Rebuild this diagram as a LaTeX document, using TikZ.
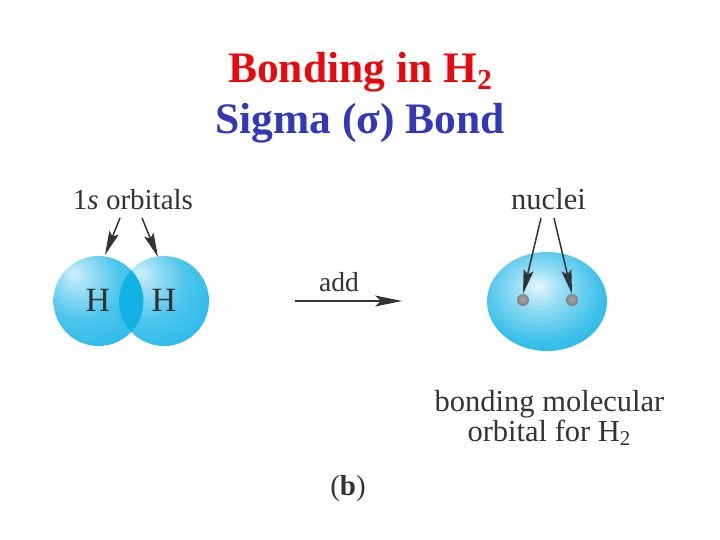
\documentclass[tikz,border=0pt]{standalone}
\usepackage{fontspec}
\setmainfont{Liberation Serif}
\usetikzlibrary{arrows.meta,shapes.geometric}
\definecolor{titlered}{HTML}{E8090F}
\definecolor{titleblue}{HTML}{3338B8}
\definecolor{inkgrey}{HTML}{2F3438}
\definecolor{lensblue}{HTML}{12B2E4}
\definecolor{ballblue}{HTML}{24B8E8}
\pgfdeclareradialshading{ballshade}{\pgfpoint{-14bp}{16bp}}{%
  color(0bp)=(white!78!ballblue);
  color(8bp)=(white!55!ballblue);
  color(22bp)=(white!18!ballblue);
  color(40bp)=(ballblue);
  color(58bp)=(lensblue);
  color(70bp)=(white!18!lensblue)}
\pgfdeclareradialshading{molshade}{\pgfpoint{-4bp}{8bp}}{%
  color(0bp)=(white!88!ballblue);
  color(10bp)=(white!52!ballblue);
  color(26bp)=(white!10!ballblue);
  color(44bp)=(lensblue);
  color(70bp)=(lensblue)}
\pgfdeclareradialshading{nucshade}{\pgfpoint{-1bp}{6bp}}{%
  color(0bp)=(black!35);
  color(25bp)=(black!50);
  color(50bp)=(black!68)}
\tikzset{
  x=1pt,y=-1pt,
  titletext/.style={font=\fontsize{43.5}{44}\selectfont\bfseries,inner sep=0pt,anchor=base},
  labeltext/.style={font=\fontsize{30.5}{32}\selectfont,text=inkgrey,inner sep=0pt,anchor=base},
  atomball/.style={circle,minimum size=90pt,inner sep=0pt,shading=ballshade},
  nucleusdot/.style={circle,minimum size=12pt,inner sep=0pt,shading=nucshade},
  pointer/.style={draw=inkgrey,line width=1.5pt,-{Stealth[length=24pt,width=10pt,inset=4pt]}},
}
\begin{document}
\begin{tikzpicture}
\useasboundingbox (0,0) rectangle (720,540);
\node[titletext,text=titlered] (t1) at (360,83) {Bonding in H\raisebox{-7pt}{\fontsize{29}{29}\selectfont 2}};
\node[titletext,text=titleblue] (t2) at (360,134) {Sigma (σ) Bond};
% atoms
\node[atomball] (a1) at (98.5,301) {};
\node[atomball] (a2) at (164,301) {};
\begin{scope}
  \clip (98.5,301) circle[radius=45];
  \fill[lensblue] (164,301) circle[radius=45];
\end{scope}
\node[labeltext,font=\fontsize{34}{34}\selectfont] (h1) at (98,311) {H};
\node[labeltext,font=\fontsize{34}{34}\selectfont] (h2) at (164,311) {H};
\node[labeltext,font=\fontsize{29}{29}\selectfont] (orb) at (133,210) {1\textit{s} orbitals};
\coordinate (orbL) at (120,218);
\coordinate (orbR) at (142,218);
\coordinate (a1top) at (105,255);
\coordinate (a2top) at (158,257);
\draw[pointer] (orbL) -- (a1top);
\draw[pointer] (orbR) -- (a2top);
% add
\node[labeltext,font=\fontsize{27.5}{28}\selectfont] (addl) at (339,291) {add};
\coordinate (addS) at (295,301);
\coordinate (addE) at (402,301);
\draw[pointer,line width=1.2pt,-{Stealth[length=27pt,width=11pt,inset=6pt]}] (addS) -- (addE);
% molecule
\node[ellipse,minimum width=120pt,minimum height=99pt,inner sep=0pt,shading=molshade] (mol) at (547,301.5) {};
\node[nucleusdot] (n1) at (523,300) {};
\node[nucleusdot] (n2) at (572,300) {};
\node[labeltext] (nuc) at (548.5,210) {nuclei};
\coordinate (nucL) at (541,218);
\coordinate (nucR) at (554,218);
\draw[pointer] (nucL) -- (n1.north);
\draw[pointer] (nucR) -- (n2.north);
\node[labeltext] (b1) at (549.5,411) {bonding molecular};
\node[labeltext] (b2) at (549,441) {orbital for H\raisebox{-4pt}{\fontsize{21}{21}\selectfont 2}};
\node[labeltext,font=\fontsize{29}{29}\selectfont] (fig) at (348,495) {(\textbf{b})};
\end{tikzpicture}
\end{document}
